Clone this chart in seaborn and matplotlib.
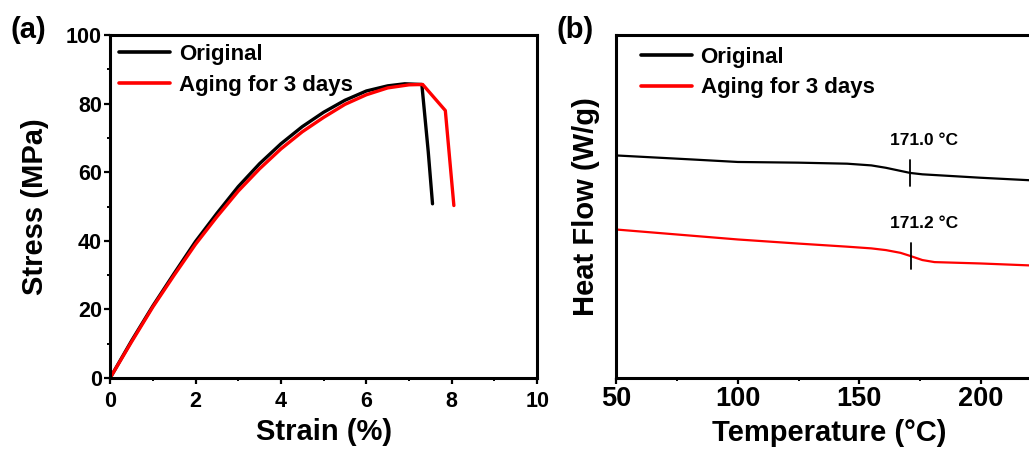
import numpy as np
import pandas as pd
import matplotlib
matplotlib.use("Agg")
import matplotlib.pyplot as plt
from matplotlib.ticker import MultipleLocator
import seaborn as sb

# --- data ---
# (a) stress-strain curves
strain_orig = [0, 0.5, 1, 1.5, 2, 2.5, 3, 3.5, 4, 4.5, 5, 5.5, 6, 6.5, 6.9, 7.3, 7.45, 7.55]
stress_orig = [0, 10.8, 21, 30.5, 39.8, 48, 55.8, 62.5, 68.3, 73.3, 77.5, 81, 83.7, 85.2, 85.8, 85.6, 66, 50.8]
strain_aged = [0, 0.5, 1, 1.5, 2, 2.5, 3, 3.5, 4, 4.5, 5, 5.5, 6, 6.5, 7, 7.32, 7.85, 8.05]
stress_aged = [0, 10.5, 20.7, 30, 39, 47, 54.5, 61, 66.8, 71.8, 76, 79.8, 82.6, 84.6, 85.5, 85.6, 78, 50.3]

# (b) DSC curves (arbitrary heat-flow units)
temp_orig = [50, 82, 100, 125, 145, 155, 161, 167, 171, 176, 188, 200, 225]
hf_orig = [6.49, 6.37, 6.30, 6.28, 6.25, 6.20, 6.13, 6.04, 5.98, 5.94, 5.89, 5.84, 5.75]
temp_aged = [50, 100, 125, 145, 155, 161, 167, 171, 176, 181, 200, 225]
hf_aged = [4.33, 4.04, 3.92, 3.83, 3.78, 3.73, 3.65, 3.56, 3.44, 3.38, 3.34, 3.27]

tg_temps = [171.0, 171.2]
tg_labels = ["171.0 °C", "171.2 °C"]
labels = ["Original", "Aging for 3 days"]
colors = ["black", "#ff0000"]

sb.set_style("ticks")
plt.rcParams["font.family"] = ["Liberation Sans", "DejaVu Sans"]
plt.rcParams["font.weight"] = "bold"
plt.rcParams["text.color"] = "black"
plt.rcParams["axes.labelcolor"] = "black"
plt.rcParams["xtick.color"] = "black"
plt.rcParams["ytick.color"] = "black"
plt.rcParams["axes.edgecolor"] = "black"

fig = plt.figure(figsize=(10.29, 4.5), dpi=100)
ax1 = fig.add_axes([0.107, 0.16, 0.415, 0.762])
ax2 = fig.add_axes([0.599, 0.16, 0.413, 0.762])

df_a = pd.concat([
    pd.DataFrame({"strain": strain_orig, "stress": stress_orig, "sample": labels[0]}),
    pd.DataFrame({"strain": strain_aged, "stress": stress_aged, "sample": labels[1]}),
])
sb.lineplot(data=df_a, x="strain", y="stress", hue="sample", palette=colors,
            sort=False, estimator=None, linewidth=2.4, ax=ax1)
ax1.set_xlim(0, 10)
ax1.set_ylim(0, 100)
ax1.xaxis.set_major_locator(MultipleLocator(2))
ax1.xaxis.set_minor_locator(MultipleLocator(1))
ax1.yaxis.set_major_locator(MultipleLocator(20))
ax1.yaxis.set_minor_locator(MultipleLocator(10))
ax1.set_xlabel("Strain (%)", fontsize=21, fontweight="bold", labelpad=4)
ax1.set_ylabel("Stress (MPa)", fontsize=21, fontweight="bold", labelpad=12)

df_b = pd.concat([
    pd.DataFrame({"temp": temp_orig, "hf": hf_orig, "sample": labels[0]}),
    pd.DataFrame({"temp": temp_aged, "hf": hf_aged, "sample": labels[1]}),
])
sb.lineplot(data=df_b, x="temp", y="hf", hue="sample", palette=colors,
            sort=False, estimator=None, linewidth=1.6, ax=ax2)
ax2.set_xlim(50, 225)
ax2.set_ylim(0, 10)
ax2.set_xticks([50, 100, 150, 200])
ax2.xaxis.set_minor_locator(MultipleLocator(25))
ax2.set_yticks([])
ax2.set_xlabel("Temperature (°C)", fontsize=21, fontweight="bold", labelpad=5)
ax2.set_ylabel("Heat Flow (W/g)", fontsize=21, fontweight="bold", labelpad=12)

# Tg markers and labels
for t, series_t, series_hf, txt in zip(tg_temps, [temp_orig, temp_aged], [hf_orig, hf_aged], tg_labels):
    yv = np.interp(t, series_t, series_hf)
    ax2.plot([t, t], [yv - 0.37, yv + 0.37], color="black", lw=1.3)
    ax2.text(t + 5.5, yv + 0.72, txt, ha="center", va="bottom", fontsize=12.5, fontweight="bold")

for ax, anchor in ((ax1, (0.0, 1.0)), (ax2, (0.036, 0.992))):
    for s in ax.spines.values():
        s.set_linewidth(2.2)
        s.set_visible(True)
    ax.tick_params(which="major", direction="out", length=4.5, width=1.6)
    ax.tick_params(which="minor", direction="out", length=2.5, width=1.4)
    leg = ax.legend(loc="upper left", bbox_to_anchor=anchor, frameon=False,
                    handlelength=2.3, handletextpad=0.4, labelspacing=0.43,
                    borderaxespad=0.0, prop={"weight": "bold", "size": 16})
    for h in leg.get_lines():
        h.set_linewidth(2.6)

ax1.tick_params(axis="x", which="major", labelsize=15.5, pad=5)
ax1.tick_params(axis="y", which="major", labelsize=15.5, pad=1.5)
ax2.tick_params(axis="x", which="major", labelsize=19.5, pad=1)
ax2.tick_params(axis="y", which="both", left=False)
for ax in (ax1, ax2):
    for lbl in ax.get_xticklabels() + ax.get_yticklabels():
        lbl.set_fontweight("bold")

fig.text(0.010, 0.915, "(a)", fontsize=21, fontweight="bold")
fig.text(0.541, 0.915, "(b)", fontsize=21, fontweight="bold")

fig.savefig("out.png", dpi=100)
